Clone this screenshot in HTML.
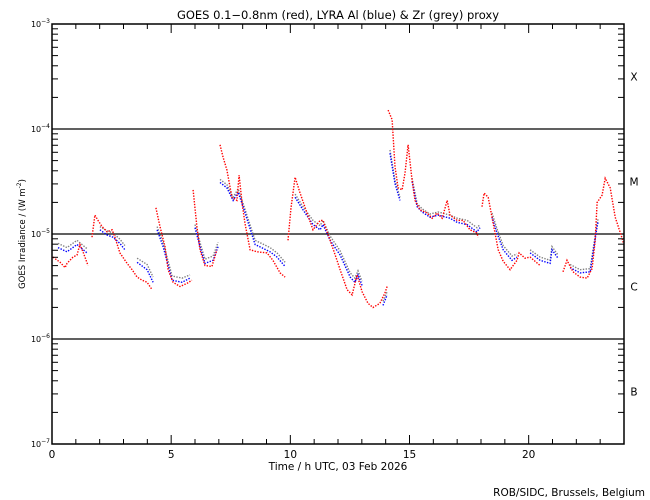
<!DOCTYPE html>
<html><head><meta charset="utf-8"><style>
body{margin:0;background:#fff}
svg{display:block;font-family:"DejaVu Sans","Liberation Sans",sans-serif}
text{fill:#000}
</style></head><body>
<svg id="chart" width="650" height="500" viewBox="0 0 650 500" xmlns="http://www.w3.org/2000/svg">
<rect width="650" height="500" fill="#fff"/>
<text x="338" y="19" font-size="11.5" text-anchor="middle">GOES 0.1−0.8nm (red), LYRA Al (blue) &amp; Zr (grey) proxy</text>
<g id="grid"></g>
<g id="series"></g>
<g id="axes"></g>
<text x="338" y="470" font-size="10.5" text-anchor="middle">Time / h UTC, 03 Feb 2026</text>
<text transform="translate(25,234) rotate(-90)" font-size="8.5" text-anchor="middle">GOES Irradiance / (W m<tspan font-size="6" dy="-4">-2</tspan><tspan dy="4">)</tspan></text>
<text x="645" y="496" font-size="10.5" text-anchor="end">ROB/SIDC, Brussels, Belgium</text>
</svg>
<script>
// data: [hour, log10 irradiance (W/m^2)], null = gap
const redSeries = [
[0.04,-5.22],[0.34,-5.27],[0.55,-5.32],[0.63,-5.28],[0.88,-5.22],[1.05,-5.20],[1.17,-5.10],[1.30,-5.17],[1.51,-5.30],null,
[1.68,-5.03],[1.80,-4.82],[1.93,-4.87],[2.10,-4.93],[2.31,-4.98],[2.52,-4.96],[2.64,-5.03],[2.85,-5.18],[3.15,-5.28],[3.36,-5.34],[3.57,-5.41],[3.78,-5.44],[3.99,-5.46],[4.20,-5.53],null,
[4.36,-4.75],[4.53,-4.93],[4.74,-5.12],[4.87,-5.34],[5.08,-5.46],[5.37,-5.50],[5.67,-5.47],[5.87,-5.44],null,
[5.92,-4.58],[6.08,-4.93],[6.21,-5.15],[6.42,-5.30],[6.71,-5.31],[6.92,-5.15],null,
[7.05,-4.15],[7.18,-4.27],[7.34,-4.39],[7.55,-4.65],[7.76,-4.68],[7.85,-4.44],[7.97,-4.70],[8.10,-4.90],[8.31,-5.15],[8.60,-5.17],[9.02,-5.18],[9.27,-5.25],[9.57,-5.37],[9.78,-5.41],null,
[9.90,-5.06],[10.03,-4.75],[10.20,-4.46],[10.41,-4.61],[10.70,-4.80],[10.95,-4.96],[11.25,-4.87],[11.37,-4.87],[11.67,-5.06],[11.96,-5.25],[12.09,-5.34],[12.38,-5.53],[12.59,-5.58],[12.80,-5.39],[13.01,-5.55],[13.26,-5.66],[13.47,-5.70],[13.76,-5.66],[13.97,-5.56],[14.06,-5.50],null,
[14.10,-3.82],[14.27,-3.91],[14.39,-4.36],[14.52,-4.56],[14.69,-4.58],[14.81,-4.42],[14.94,-4.15],[15.11,-4.49],[15.23,-4.68],[15.44,-4.77],[15.74,-4.80],[15.95,-4.85],[16.16,-4.80],[16.37,-4.85],[16.58,-4.68],[16.70,-4.82],[17.00,-4.87],[17.25,-4.87],[17.54,-4.96],[17.83,-4.99],[17.88,-5.03],null,
[18.04,-4.74],[18.13,-4.61],[18.30,-4.65],[18.51,-4.90],[18.72,-5.15],[18.93,-5.26],[19.22,-5.34],[19.51,-5.25],[19.60,-5.18],[19.85,-5.23],[20.06,-5.22],[20.48,-5.30],null,
[21.44,-5.36],[21.61,-5.25],[21.86,-5.36],[22.16,-5.41],[22.45,-5.42],[22.66,-5.33],[22.79,-5.06],[22.87,-4.70],[23.08,-4.63],[23.21,-4.47],[23.42,-4.56],[23.63,-4.84],[23.92,-5.04],[23.96,-5.08]
];
const blueSeries = [
[0.25,-5.13],[0.63,-5.17],[1.05,-5.10],[1.47,-5.18],null,
[2.01,-4.96],[2.31,-5.01],[2.56,-5.03],[2.85,-5.09],[3.06,-5.15],null,
[3.57,-5.27],[3.99,-5.34],[4.24,-5.46],null,
[4.41,-4.96],[4.66,-5.12],[5.04,-5.44],[5.46,-5.46],[5.79,-5.42],null,
[6.00,-4.94],[6.21,-5.12],[6.42,-5.28],[6.76,-5.25],[6.97,-5.12],null,
[7.05,-4.51],[7.34,-4.56],[7.60,-4.68],[7.81,-4.60],[8.02,-4.74],[8.52,-5.10],[9.15,-5.17],[9.44,-5.22],[9.78,-5.31],null,
[10.20,-4.65],[10.53,-4.77],[10.95,-4.91],[11.25,-4.96],[11.37,-4.91],[11.67,-5.06],[12.09,-5.20],[12.51,-5.41],[12.71,-5.46],[12.84,-5.39],[13.01,-5.49],null,
[13.89,-5.68],[14.06,-5.58],null,
[14.18,-4.23],[14.39,-4.52],[14.60,-4.68],null,
[15.11,-4.50],[15.32,-4.74],[15.53,-4.79],[15.86,-4.84],[16.20,-4.82],[16.70,-4.85],[17.00,-4.89],[17.42,-4.91],[17.83,-4.98],[17.96,-4.94],null,
[18.46,-4.84],[18.67,-4.99],[18.93,-5.15],[19.30,-5.25],[19.51,-5.22],null,
[20.06,-5.18],[20.48,-5.25],[20.90,-5.28],[20.98,-5.15],[21.23,-5.23],null,
[21.74,-5.32],[22.16,-5.37],[22.58,-5.36],[22.70,-5.18],[22.87,-4.93],[22.91,-4.89]
];
const greySeries = [
[0.25,-5.09],[0.63,-5.13],[1.05,-5.06],[1.47,-5.14],null,
[2.01,-4.93],[2.31,-4.97],[2.56,-4.99],[2.85,-5.05],[3.06,-5.11],null,
[3.57,-5.23],[3.99,-5.29],[4.24,-5.41],null,
[4.41,-4.93],[4.66,-5.08],[5.04,-5.40],[5.46,-5.42],[5.79,-5.39],null,
[6.00,-4.91],[6.21,-5.08],[6.42,-5.24],[6.76,-5.21],[6.97,-5.08],null,
[7.05,-4.48],[7.34,-4.53],[7.60,-4.65],[7.81,-4.57],[8.02,-4.71],[8.52,-5.06],[9.15,-5.13],[9.44,-5.18],[9.78,-5.27],null,
[10.20,-4.62],[10.53,-4.74],[10.95,-4.87],[11.25,-4.92],[11.37,-4.87],[11.67,-5.02],[12.09,-5.16],[12.51,-5.37],[12.71,-5.42],[12.84,-5.35],[13.01,-5.45],null,
[13.89,-5.64],[14.06,-5.55],null,
[14.18,-4.20],[14.39,-4.49],[14.60,-4.65],null,
[15.11,-4.47],[15.32,-4.71],[15.53,-4.76],[15.86,-4.81],[16.20,-4.79],[16.70,-4.82],[17.00,-4.85],[17.42,-4.87],[17.83,-4.94],[17.96,-4.91],null,
[18.46,-4.80],[18.67,-4.95],[18.93,-5.11],[19.30,-5.21],[19.51,-5.19],null,
[20.06,-5.15],[20.48,-5.22],[20.90,-5.25],[20.98,-5.12],[21.23,-5.20],null,
[21.74,-5.29],[22.16,-5.34],[22.58,-5.33],[22.70,-5.15],[22.87,-4.90],[22.91,-4.86]
];
const xMajorTicks = [0,5,10,15,20];
const yDecades = [-7,-6,-5,-4,-3];
const classLabels = ["B","C","M","X"];

const NS="http://www.w3.org/2000/svg";
const L=52,R=624,T=24,B=444;
const xs=h=>L+(h/24)*(R-L);
const ys=v=>B-(v+7)/4*(B-T);
function mk(tag,attrs,parent){const e=document.createElementNS(NS,tag);for(const k in attrs)e.setAttribute(k,attrs[k]);parent.appendChild(e);return e;}
const grid=document.getElementById('grid'),axes=document.getElementById('axes'),ser=document.getElementById('series');

// horizontal class lines
[-6,-5,-4].forEach(d=>{const l=mk('line',{x1:L,x2:R,y1:ys(d),y2:ys(d),stroke:'#000','stroke-width':1.2},grid);

});

// frame
const fr=mk('rect',{x:L,y:T,width:R-L,height:B-T,fill:'none',stroke:'#000','stroke-width':1.5},axes);



// x ticks
for(let h=0;h<=24;h++){const maj=xMajorTicks.includes(h);const len=maj?9:5;
mk('line',{x1:xs(h),x2:xs(h),y1:B,y2:B-len,stroke:'#000','stroke-width':1},axes);
mk('line',{x1:xs(h),x2:xs(h),y1:T,y2:T+len,stroke:'#000','stroke-width':1},axes);}
xMajorTicks.forEach(h=>{const t=mk('text',{x:xs(h),y:B+14,'font-size':10.5,'text-anchor':'middle'},axes);t.textContent=h;

});

// y ticks
yDecades.forEach((d,i)=>{
 const t=mk('text',{x:L-2,y:ys(d)+3,'font-size':8,'text-anchor':'end'},axes);
 
 
 t.textContent='10';const s=mk('tspan',{'font-size':6,dy:-4},t);s.textContent='\u2212'+(-d);
 if(i<yDecades.length-1){for(let m=2;m<=9;m++){const y=ys(d+Math.log10(m));
  mk('line',{x1:L,x2:L+6,y1:y,y2:y,stroke:'#000','stroke-width':1},axes);
  mk('line',{x1:R,x2:R-6,y1:y,y2:y,stroke:'#000','stroke-width':1},axes);}
  const c=mk('text',{x:634,y:ys(d+0.5)+4,'font-size':10.5,'text-anchor':'middle'},axes);c.textContent=classLabels[i];
  
  }
});

function drawSeries(data,color,name){
 let segs=[],cur=[];
 data.forEach(p=>{if(p===null){if(cur.length)segs.push(cur);cur=[];}else cur.push(p);});
 if(cur.length)segs.push(cur);
 segs.forEach(s=>{const pl=mk('polyline',{points:s.map(p=>xs(p[0]).toFixed(1)+','+ys(p[1]).toFixed(1)).join(' '),fill:'none',stroke:color,'stroke-width':1.4,'stroke-dasharray':'1.4 1.4'},ser);
 
 });
}
drawSeries(greySeries,'#808080','lyra-zr-series');
drawSeries(blueSeries,'#0000ff','lyra-al-series');
drawSeries(redSeries,'#ff0000','goes-series');
</script>
</body></html>
